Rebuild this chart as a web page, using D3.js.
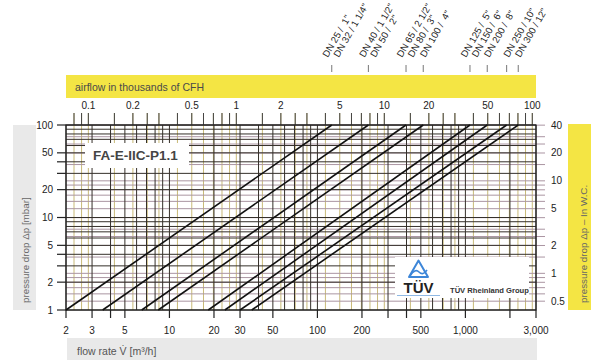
<!DOCTYPE html>
<html>
<head>
<meta charset="utf-8">
<script src="https://cdn.jsdelivr.net/npm/d3@7/dist/d3.min.js"></script>
<style>
  html, body { margin: 0; padding: 0; background: #fff; }
  svg { display: block; font-family: "Liberation Sans", Arial, Helvetica, sans-serif; }
</style>
</head>
<body>
<svg id="chart" width="600" height="360"></svg>
<script>
// ---------- data ----------
const xLabels = [2, 3, 5, 10, 20, 30, 50, 100, 200, 500, 1000, 3000];
const xExtTicks = [2, 3, 4, 5, 10, 20, 30, 50, 100, 200, 300, 400, 500, 1000, 2000, 3000];
const m3hGrid = [2,3,4,5,6,7,8,9,10,20,30,40,50,60,70,80,90,100,200,300,400,500,600,700,800,900,1000,2000,3000];
const cfhTicks = [0.08,0.09,0.1,0.15,0.2,0.25,0.3,0.4,0.5,0.6,0.7,0.8,0.9,1,1.5,2,2.5,3,4,5,6,7,8,9,10,15,20,25,30,40,50,60,70,80,90,100];
const cfhLabels = [0.1, 0.2, 0.5, 1, 2, 5, 10, 20, 50, 100];
const mbarLabels = [1, 2, 5, 10, 20, 50, 100];
const mbarTicks = [1, 2, 3, 4, 5, 10, 20, 30, 40, 50, 100];
const mbarGrid = [1,2,3,4,5,6,7,8,9,10,20,30,40,50,60,70,80,90,100];
const wcTicks = [0.5,0.6,0.7,0.8,0.9,1,1.5,2,2.5,3,4,5,6,7,8,9,10,15,20,25,30,40];
const wcLabels = [0.5, 1, 2, 5, 10, 20, 40];

// flow (m3/h) at 1 mbar and at 100 mbar for each valve line
const dnQ1   = [2, 3.54, 6.5, 8.4, 18.3, 23.7, 30, 36];
const dnQ100 = [125, 221, 397, 519, 1074, 1405, 1900, 2276];
const dnLabels = [
  ["DN 25 /  1\"", "DN 32 / 1 1/4\""],
  ["DN 40 / 1 1/2\"", "DN 50 /  2\""],
  ["DN 65 / 2 1/2\"", "DN 80 /  3\""],
  ["DN 100 /  4\""],
  ["DN 125 /  5\"", "DN 150 /  6\""],
  ["DN 200 /  8\""],
  ["DN 250 / 10\""],
  ["DN 300 / 12\""]
];

const M3H_PER_KCFH = 28.3168;
const MBAR_PER_INWC = 2.4908;

// ---------- scales ----------
const L = 66, R = 536, T = 125, B = 310;
const x = d3.scaleLog().domain([2, 3000]).range([L, R]);
const y = d3.scaleLog().domain([1, 100]).range([B, T]);
const xc = v => x(v * M3H_PER_KCFH);
const yw = v => y(v * MBAR_PER_INWC);

const svg = d3.select("#chart");
const fmt = d3.format(",");

// ---------- bands ----------
const yellow = "#f4e544";
const gray = "#e9e9e9";
svg.append("rect").attr("x", L).attr("y", 75).attr("width", R - L).attr("height", 23).attr("fill", yellow);
svg.append("text").attr("x", 75).attr("y", 90.5).attr("font-size", 10.5).attr("fill", "#4a4a4a")
  .text("airflow in thousands of CFH");

svg.append("rect").attr("x", 13).attr("y", T).attr("width", 23).attr("height", B - T).attr("fill", gray);
svg.append("text").attr("transform", "translate(28.5,303) rotate(-90)").attr("font-size", 9.8).attr("fill", "#666")
  .text("pressure drop Δp [mbar]");

svg.append("rect").attr("x", 568).attr("y", 124).attr("width", 23).attr("height", 186).attr("fill", yellow);
svg.append("text").attr("transform", "translate(586.5,303) rotate(-90)").attr("font-size", 9.8).attr("fill", "#666")
  .text("pressure drop Δp – In W.C.");

svg.append("rect").attr("x", 67).attr("y", 338).attr("width", 470).attr("height", 22).attr("fill", gray);
svg.append("text").attr("x", 77).attr("y", 355).attr("font-size", 10.5).attr("fill", "#555")
  .text("flow rate V̇ [m³/h]");

// ---------- grid ----------
const g = svg.append("g");
g.selectAll(".vc").data(cfhTicks.filter(v => xc(v) >= L && xc(v) <= R)).enter().append("line")
  .attr("x1", d => xc(d)).attr("x2", d => xc(d)).attr("y1", 113).attr("y2", B)
  .attr("stroke", "#c9ba78").attr("stroke-width", 1);
g.selectAll(".hw").data(wcTicks).enter().append("line")
  .attr("x1", L).attr("x2", 545).attr("y1", d => yw(d)).attr("y2", d => yw(d))
  .attr("stroke", "#aa95a2").attr("stroke-width", 1);
g.selectAll(".vm").data(m3hGrid).enter().append("line")
  .attr("x1", d => x(d)).attr("x2", d => x(d)).attr("y1", T).attr("y2", B)
  .attr("stroke", "#35302a").attr("stroke-width", 1);
g.selectAll(".hm").data(mbarGrid).enter().append("line")
  .attr("x1", L).attr("x2", R).attr("y1", d => y(d)).attr("y2", d => y(d))
  .attr("stroke", "#35302a").attr("stroke-width", 1);

g.selectAll(".xt").data(xExtTicks).enter().append("line")
  .attr("x1", d => x(d)).attr("x2", d => x(d)).attr("y1", B).attr("y2", 318)
  .attr("stroke", "#222").attr("stroke-width", 1.2);
g.selectAll(".yt").data(mbarTicks).enter().append("line")
  .attr("x1", 57).attr("x2", L).attr("y1", d => y(d)).attr("y2", d => y(d))
  .attr("stroke", "#222").attr("stroke-width", 1.2);
g.selectAll(".tt").data(cfhTicks.filter(v => xc(v) >= L && xc(v) <= R)).enter().append("line")
  .attr("x1", d => xc(d)).attr("x2", d => xc(d)).attr("y1", 113).attr("y2", T)
  .attr("stroke", "#444").attr("stroke-width", 1);

svg.append("rect").attr("x", L).attr("y", T).attr("width", R - L).attr("height", B - T)
  .attr("fill", "none").attr("stroke", "#222").attr("stroke-width", 1.2);

// ---------- tick labels ----------
svg.append("g").selectAll("text").data(xLabels).enter().append("text")
  .attr("x", d => x(d)).attr("y", 334).attr("text-anchor", "middle").attr("font-size", 10).attr("fill", "#222")
  .text(d => fmt(d));
svg.append("g").selectAll("text").data(cfhLabels).enter().append("text")
  .attr("x", d => xc(d)).attr("y", 109).attr("text-anchor", "middle").attr("font-size", 10).attr("fill", "#222")
  .text(d => d);
svg.append("g").selectAll("text").data(mbarLabels).enter().append("text")
  .attr("x", 53).attr("y", d => y(d) + 3.5).attr("text-anchor", "end").attr("font-size", 10).attr("fill", "#222")
  .text(d => d);
svg.append("g").selectAll("text").data(wcLabels).enter().append("text")
  .attr("x", 551).attr("y", d => yw(d) + 3.5).attr("text-anchor", "start").attr("font-size", 10).attr("fill", "#222")
  .text(d => d);

// ---------- label boxes ----------
svg.append("rect").attr("x", 85).attr("y", 143).attr("width", 104).attr("height", 25).attr("fill", "#fff");
svg.append("text").attr("x", 93).attr("y", 160).attr("font-size", 13.5).attr("font-weight", "bold").attr("fill", "#444")
  .text("FA-E-IIC-P1.1");

svg.append("rect").attr("x", 395).attr("y", 257).attr("width", 134).attr("height", 41).attr("fill", "#fff");
svg.append("path").attr("d", "M409,277 L418.5,260.5 L428,277 Z").attr("fill", "none")
  .attr("stroke", "#3d86d8").attr("stroke-width", 2).attr("stroke-linejoin", "round");
svg.append("path").attr("d", "M410,276 Q415,268 419,272 Q423,276 427,270").attr("fill", "none")
  .attr("stroke", "#3d86d8").attr("stroke-width", 1.6);
svg.append("text").attr("x", 418.5).attr("y", 293).attr("text-anchor", "middle").attr("font-size", 15)
  .attr("font-weight", "bold").attr("fill", "#222").text("TÜV");
svg.append("line").attr("x1", 397).attr("x2", 440).attr("y1", 295.5).attr("y2", 295.5)
  .attr("stroke", "#8fb8e3").attr("stroke-width", 1.2);
svg.append("text").attr("x", 450).attr("y", 292.5).attr("font-size", 7.6).attr("font-weight", "bold")
  .attr("fill", "#333").text("TÜV Rheinland Group");

// ---------- valve lines ----------
const lines = dnQ1.map((q1, i) => [[q1, 1], [dnQ100[i], 100]]);
svg.append("g").selectAll("path").data(lines).enter().append("path")
  .attr("d", d => d3.line().x(p => x(p[0])).y(p => y(p[1]))(d))
  .attr("stroke", "#111").attr("stroke-width", 1.6).attr("fill", "none");

// ---------- DN labels ----------
const dg = svg.append("g");
dnQ100.forEach((q, i) => {
  const tx = x(q);
  dg.append("line").attr("x1", tx).attr("x2", tx).attr("y1", 65).attr("y2", 72)
    .attr("stroke", "#777").attr("stroke-width", 1);
  const labs = dnLabels[i];
  labs.forEach((t, j) => {
    const off = labs.length === 2 ? (j === 0 ? -4 : 7) : 2;
    dg.append("text")
      .attr("transform", `translate(${tx + off},58) rotate(-60)`)
      .attr("font-size", 9.6).attr("fill", "#222").style("white-space", "pre")
      .text(t);
  });
});
</script>
</body>
</html>
